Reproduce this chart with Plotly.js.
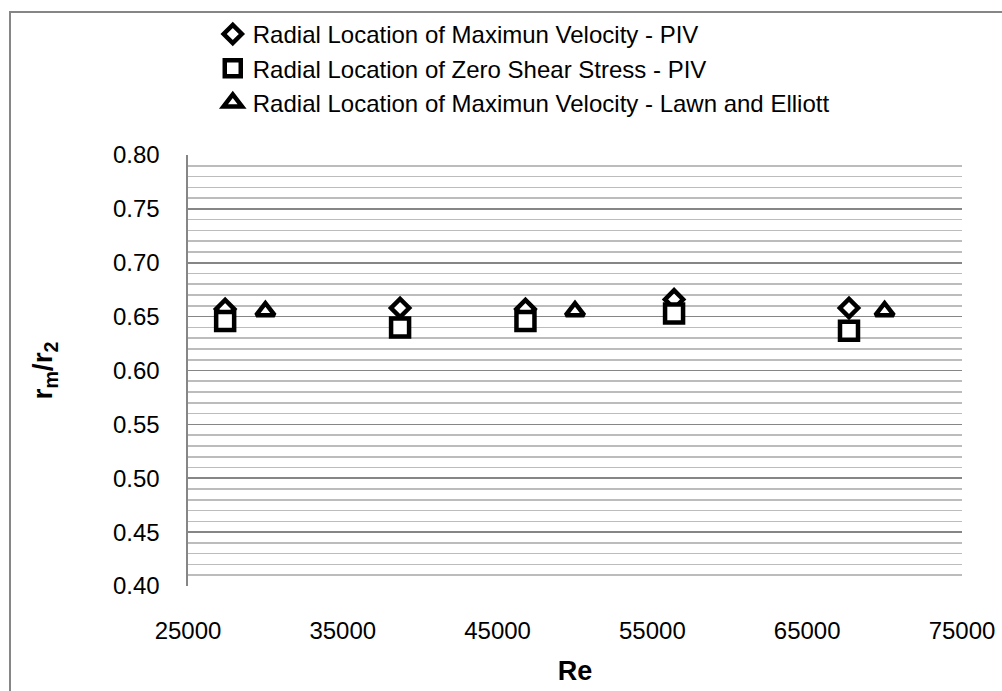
<!DOCTYPE html>
<html>
<head>
<meta charset="utf-8">
<script src="https://cdn.plot.ly/plotly-3.0.1.min.js"></script>
<style>
  html, body { margin: 0; padding: 0; background: #ffffff; }
  #wrap { position: relative; width: 1002px; height: 691px; overflow: hidden; }
  #frame { position: absolute; left: 9px; top: 11px; width: 1100px; height: 800px;
           border-left: 2px solid #868686; border-top: 2px solid #868686; pointer-events: none; }
  #chart { position: absolute; left: 0; top: 0; width: 1002px; height: 691px; }
</style>
</head>
<body>
<div id="wrap">
  <div id="chart"></div>
  <div id="frame"></div>
</div>
<script>
// Reynolds numbers of the PIV runs
const rePIV = [27400, 38700, 46800, 56400, 67700];
// r_m / r_2 : radial location of maximum velocity (PIV)
const maxVelocityPIV = [0.657, 0.658, 0.657, 0.666, 0.658];
// r_m / r_2 : radial location of zero shear stress (PIV)
const zeroShearPIV = [0.646, 0.640, 0.646, 0.653, 0.637];
// Lawn and Elliott reference data
const reLawn = [30000, 50000, 70000];
const maxVelocityLawn = [0.655, 0.655, 0.655];

const seriesNames = [
  'Radial Location of Maximun Velocity - PIV',
  'Radial Location of Zero Shear Stress - PIV',
  'Radial Location of Maximun Velocity - Lawn and Elliott'
];

const FONT = 'Liberation Sans, Arial, sans-serif';

function markerStyle(symbol, size) {
  return { symbol: symbol, size: size, color: '#ffffff',
           line: { color: '#000000', width: 4.5 } };
}

const traces = [
  { x: rePIV, y: maxVelocityPIV, name: seriesNames[0], type: 'scatter', mode: 'markers',
    marker: markerStyle('diamond', 14) },
  { x: rePIV, y: zeroShearPIV, name: seriesNames[1], type: 'scatter', mode: 'markers',
    marker: markerStyle('square', 18) },
  { x: reLawn, y: maxVelocityLawn, name: seriesNames[2], type: 'scatter', mode: 'markers',
    marker: markerStyle('triangle-up', 16) }
];

const layout = {
  width: 1002, height: 691,
  margin: { l: 188, r: 40, t: 152, b: 105, pad: 0 },
  paper_bgcolor: '#ffffff', plot_bgcolor: '#ffffff',
  font: { family: FONT, size: 24, color: '#000000' },
  showlegend: true,
  legend: {
    x: 0.032, xanchor: 'left', y: 1.332, yanchor: 'top',
    font: { family: FONT, size: 24, color: '#000000' },
    bgcolor: 'rgba(0,0,0,0)', itemclick: false
  },
  xaxis: {
    range: [25000, 75000], tick0: 25000, dtick: 10000, tickformat: 'd',
    showgrid: false, zeroline: false, showline: false,
    ticks: '', ticklabelstandoff: 28,
    tickfont: { family: FONT, size: 24, color: '#000000' },
    title: { text: '<b>Re</b>', font: { family: FONT, size: 27, color: '#000000' }, standoff: 18 },
    automargin: false
  },
  yaxis: {
    range: [0.40, 0.80], tick0: 0.40, dtick: 0.05, tickformat: '.2f',
    showgrid: true, gridcolor: '#868686', gridwidth: 1.6,
    minor: { dtick: 0.01, showgrid: true, gridcolor: '#bcbcbc', gridwidth: 1.6 },
    zeroline: false, showline: true, linecolor: '#868686', linewidth: 2.5,
    ticks: '', ticklabelstandoff: 21,
    tickfont: { family: FONT, size: 24, color: '#000000' },
    title: { text: '<b>r<sub>m</sub>/r<sub>2</sub></b>', font: { family: FONT, size: 28, color: '#000000' }, standoff: 52 },
    automargin: false
  }
};

Plotly.newPlot('chart', traces, layout, { staticPlot: true, displayModeBar: false });
</script>
</body>
</html>
